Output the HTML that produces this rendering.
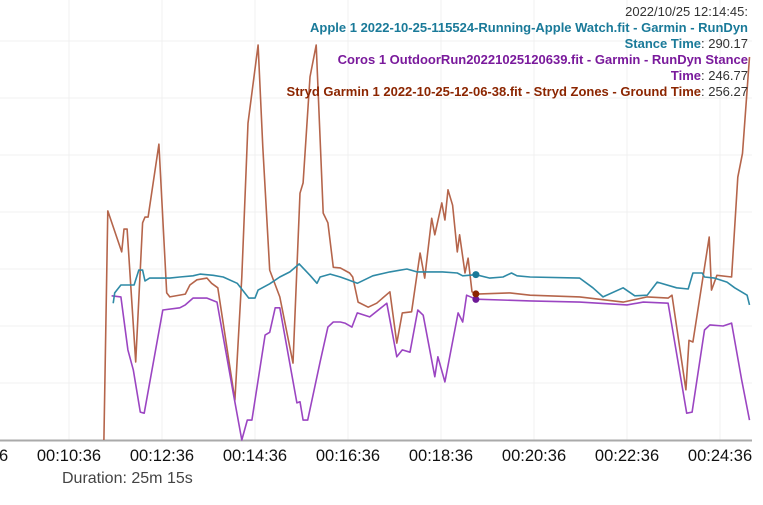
<!DOCTYPE html>
<html><head><meta charset="utf-8">
<style>
html,body{margin:0;padding:0;background:#fff;width:763px;height:505px;overflow:hidden;font-family:"Liberation Sans",sans-serif;}
#wrap{position:relative;width:763px;height:505px;}
#tip{position:absolute;right:15px;top:4px;text-align:right;font-size:13px;line-height:16px;color:#333;}
#tip b{font-weight:bold}
</style></head><body>
<div id="wrap">
<svg id="chart" width="763" height="505"></svg>
<div id="tip">
<div>2022/10/25 12:14:45:</div>
<div><b style="color:#1a7a99">Apple 1 2022-10-25-115524-Running-Apple Watch.fit - Garmin - RunDyn<br>Stance Time</b>: 290.17</div>
<div><b style="color:#7a1a9c">Coros 1 OutdoorRun20221025120639.fit - Garmin - RunDyn Stance<br>Time</b>: 246.77</div>
<div><b style="color:#8b2500">Stryd Garmin 1 2022-10-25-12-06-38.fit - Stryd Zones - Ground Time</b>: 256.27</div>
</div>
</div>
<script>
const xTicks=[516,636,756,876,996,1116,1236,1356,1476];
const xTickLabels=["00:08:36","00:10:36","00:12:36","00:14:36","00:16:36","00:18:36","00:20:36","00:22:36","00:24:36"];
const yTicks=[0,100,200,300,400,500,600,700];
const hoverTime=1161;
const strydT=[681,686,704,707,711,722,731,734,738,752,762,766,786,792,801,814,820,828,850,859,867,880,886,895,908,925,934,938,947,955,964,970,977,986,998,1002,1009,1022,1033,1050,1059,1066,1078,1089,1095,1104,1108,1117,1121,1125,1131,1137,1140,1147,1151,1156,1162,1205,1231,1295,1351,1382,1409,1414,1432,1436,1441,1462,1465,1472,1491,1499,1505,1514];
const strydV=[0,402,330,370,370,137,381,391,391,519,258,251,256,272,281,284,275,267,70,286,556,693,514,298,251,135,433,451,637,693,398,381,303,302,293,286,242,233,240,260,170,223,225,328,284,389,360,416,386,439,412,330,360,293,319,260,256,258,254,251,242,251,249,254,88,175,172,356,263,289,286,461,503,672];
const corosT=[691,703,712,719,728,733,757,779,786,796,814,827,848,859,866,872,889,895,902,908,930,934,938,944,960,970,977,986,992,1001,1008,1024,1046,1059,1066,1076,1086,1093,1108,1112,1121,1138,1144,1149,1161,1231,1295,1356,1377,1409,1433,1440,1456,1463,1480,1491,1504,1514];
const corosV=[253,251,158,123,49,47,228,232,237,249,249,242,82,0,35,35,184,189,232,232,65,67,35,35,137,198,207,207,205,198,223,216,240,146,158,154,228,219,111,146,102,223,207,254,247,244,242,237,242,240,47,49,193,202,200,205,105,35];
const appleT=[693,695,703,720,726,731,734,740,766,779,796,805,822,835,853,868,876,880,895,908,921,933,947,956,960,973,986,996,1008,1028,1050,1072,1085,1118,1137,1144,1161,1179,1196,1207,1214,1231,1295,1312,1325,1351,1366,1382,1395,1420,1435,1441,1453,1456,1469,1485,1495,1511,1514];
const appleV=[240,258,272,272,298,298,279,284,284,286,288,291,289,286,275,249,249,263,274,286,295,309,289,275,286,291,286,281,275,288,295,300,295,295,293,288,290,284,286,293,288,286,284,267,251,267,253,254,277,267,265,293,293,286,284,277,267,254,237];
const hoverVals=[290.17,246.77,256.27];

const X=t=>69+(t-636)/1.2903;
const Y=v=>440-v*0.57;
const NS="http://www.w3.org/2000/svg";
const svg=document.getElementById('chart');
function mk(tag,attrs,parent){const e=document.createElementNS(NS,tag);for(const k in attrs)e.setAttribute(k,attrs[k]);(parent||svg).appendChild(e);return e;}
const grid=mk('g',{});


yTicks.forEach(v=>{const l=mk('line',{x1:0,x2:752,y1:Y(v),y2:Y(v),stroke:'#f0f0f0','stroke-width':1},grid);

});
xTicks.forEach((t,i)=>{const l=mk('line',{x1:X(t),x2:X(t),y1:0,y2:440,stroke:'#f0f0f0','stroke-width':1},grid);


const tx=mk('text',{x:X(t),y:461,'text-anchor':'middle','font-size':'16.5','fill':'#111','font-family':'Liberation Sans, sans-serif'});
tx.textContent=xTickLabels[i];

});
const axis=mk('line',{x1:0,x2:752,y1:440.5,y2:440.5,stroke:'#aaaaaa','stroke-width':2});


const title=mk('text',{x:62,y:483,'font-size':'16','fill':'#444','font-family':'Liberation Sans, sans-serif'});
title.textContent='Duration: 25m 15s';


function series(T,V,color,name){const d=T.map((t,i)=>(i?'L':'M')+X(t).toFixed(1)+','+Y(V[i]).toFixed(1)).join('');
const p=mk('path',{d:d,fill:'none',stroke:color,'stroke-width':1.6,'stroke-linejoin':'round'});

}
series(strydT,strydV,'#b5654b','stryd-series');
series(corosT,corosV,'#9b45c2','coros-series');
series(appleT,appleV,'#2f8aa6','apple-series');
const dotCols=['#1a7a99','#6e1a96','#8b2500'];
hoverVals.forEach((v,i)=>{const c=mk('circle',{cx:X(hoverTime),cy:Y(v),r:3.5,fill:dotCols[i]});

});
</script>
</body></html>
